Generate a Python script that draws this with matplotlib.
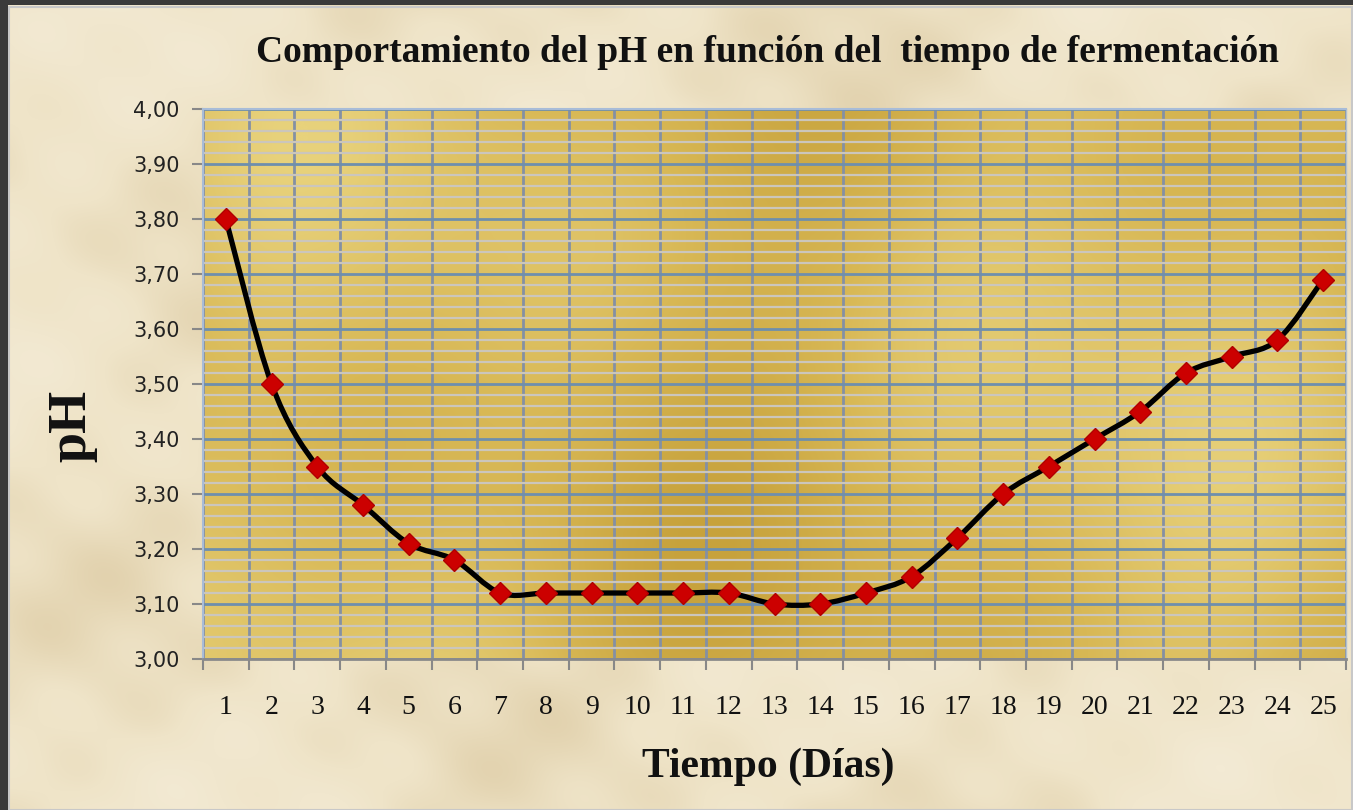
import matplotlib
matplotlib.use("Agg")
import matplotlib.pyplot as plt
import numpy as np
from matplotlib.colors import LinearSegmentedColormap
from matplotlib.path import Path
from matplotlib.patches import PathPatch, Rectangle
from matplotlib.ticker import MultipleLocator, FixedLocator, NullFormatter

# Data
dias = list(range(1, 26))
ph = [3.80, 3.50, 3.35, 3.28, 3.21, 3.18, 3.12, 3.12, 3.12, 3.12, 3.12, 3.12, 3.10,
      3.10, 3.12, 3.15, 3.22, 3.30, 3.35, 3.40, 3.45, 3.52, 3.55, 3.58, 3.69]
y_ticks = [3.00, 3.10, 3.20, 3.30, 3.40, 3.50, 3.60, 3.70, 3.80, 3.90, 4.00]

title = "Comportamiento del pH en función del  tiempo de fermentación"
xlabel = "Tiempo (Días)"
ylabel = "pH"

serif = ["Liberation Serif", "DejaVu Serif"]
sans = ["DejaVu Sans"]

W, H = 1353, 810
fig = plt.figure(figsize=(W / 100, H / 100), dpi=100, facecolor="#3a3a3a")

# parchment background (deterministic soft texture)
bg = fig.add_axes([8 / W, 0, 1 - 8 / W, 1 - 5 / H])
bg.set_axis_off()
gx, gy = np.meshgrid(np.linspace(0, 1, 400), np.linspace(0, 1, 240))
tex = (np.sin(gx * 17 + gy * 5) + np.sin(gx * 7 - gy * 13 + 1.3)
       + 0.6 * np.sin(gx * 41 + gy * 29) + 0.4 * np.sin(gx * 63 - gy * 47 + 2.0))
parch = LinearSegmentedColormap.from_list("parch", ["#e2d2ae", "#efe4c8", "#f3ead4"])
bg.imshow(tex, cmap=parch, aspect="auto", extent=[0, 1, 0, 1], interpolation="bicubic")
bg.add_patch(Rectangle((0.001, 0.0), 0.998, 0.998, fill=False, edgecolor="#c8c8c8",
                       lw=1.5, transform=bg.transAxes))

ax = fig.add_axes([203 / W, 1 - 659 / H, (1346 - 203) / W, (659 - 109) / H])
ax.set_xlim(0.5, 25.5)
ax.set_ylim(3.0, 4.0)

# golden plot area
gold = LinearSegmentedColormap.from_list("gold", ["#c7a23c", "#d8b855", "#e8d27c"])
px, py = np.meshgrid(np.linspace(0, 1, 300), np.linspace(0, 1, 200))
shade = (np.sin(px * 9 + 0.5) + 0.8 * np.cos(py * 6 - px * 4) + 0.5 * np.sin(px * 20 + py * 3))
ax.imshow(shade, cmap=gold, aspect="auto", extent=[0.5, 25.5, 3.0, 4.0],
          interpolation="bicubic", zorder=0)

ax.set_axisbelow(True)
ax.yaxis.set_major_locator(FixedLocator(y_ticks))
ax.yaxis.set_minor_locator(MultipleLocator(0.02))
ax.set_xticks([d for d in dias])
ax.xaxis.set_minor_locator(FixedLocator([d + 0.5 for d in range(0, 26)]))
ax.xaxis.set_minor_formatter(NullFormatter())

ax.grid(which="minor", axis="y", color="#cbc6bc", lw=1.6, zorder=0.5)
ax.grid(which="major", axis="y", color="#6e8fad", lw=2.0, zorder=0.6)
ax.grid(which="minor", axis="x", color="#8490a4", lw=2.0, zorder=0.6)

ax.set_yticklabels([f"{v:.2f}".replace(".", ",") for v in y_ticks],
                   fontsize=15, color="#222222", family=sans)
ax.set_xticklabels([str(d) for d in dias], fontsize=20, family=serif, color="#111111")
ax.tick_params(axis="y", which="major", direction="out", length=8, width=1.5,
               color="#888888", pad=9)
ax.tick_params(axis="y", which="minor", length=0)
ax.tick_params(axis="x", which="major", length=0, pad=26)
ax.tick_params(axis="x", which="minor", direction="out", length=8, width=1.5,
               color="#888888")

for side in ["left", "top"]:
    ax.spines[side].set_color("#a8bcd8")
    ax.spines[side].set_linewidth(1.5)
ax.spines["bottom"].set_color("#8a8a8a")
ax.spines["bottom"].set_linewidth(2)
ax.spines["right"].set_color("#b0c0d0")
ax.spines["right"].set_linewidth(1.0)

# smooth line through the points (Catmull-Rom as cubic Beziers)
pts = np.column_stack([dias, ph]).astype(float)
verts = [tuple(pts[0])]
codes = [Path.MOVETO]
n = len(pts)
for i in range(n - 1):
    p0 = pts[i - 1] if i > 0 else pts[i]
    p1, p2 = pts[i], pts[i + 1]
    p3 = pts[i + 2] if i + 2 < n else pts[i + 1]
    c1 = p1 + (p2 - p0) / 6.0
    c2 = p2 - (p3 - p1) / 6.0
    verts += [tuple(c1), tuple(c2), tuple(p2)]
    codes += [Path.CURVE4] * 3
ax.add_patch(PathPatch(Path(verts, codes), fill=False, edgecolor="black", lw=3.8,
                       capstyle="round", joinstyle="round", zorder=3))
ax.plot(dias, ph, linestyle="none", marker="D", markersize=11, color="#cc0000",
        markeredgecolor="#b00000", zorder=4)

fig.text(768 / W, 1 - 52 / H, title, ha="center", va="center", fontsize=27,
         fontweight="bold", family=serif, color="#111111")
fig.text(768 / W, 1 - 767 / H, xlabel, ha="center", va="center", fontsize=30,
         fontweight="bold", family=serif, color="#111111")
fig.text(72 / W, 1 - 426 / H, ylabel, ha="center", va="center", fontsize=39,
         fontweight="bold", family=serif, rotation=90, color="#111111")

fig.savefig("out.png", dpi=100, facecolor=fig.get_facecolor())
